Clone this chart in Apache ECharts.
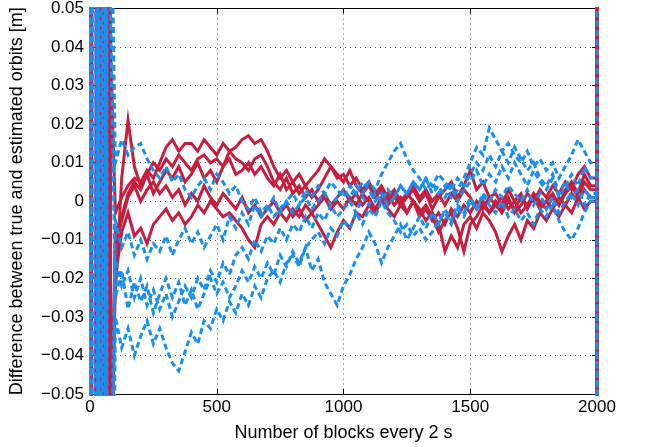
<!DOCTYPE html>
<html>
<head>
<meta charset="utf-8">
<script src="https://cdn.jsdelivr.net/npm/echarts@6/dist/echarts.min.js"></script>
<style>
    html, body { margin: 0; padding: 0; background: #fff; }
    #main { width: 659px; height: 447px; }
</style>
</head>
<body>
<div id="main"></div>
<script>
// samples every 25 blocks (100 ... 1975)
var blocks = [];
for (var b = 100; b <= 1975; b += 25) blocks.push(b);

// values in mm
// start of each run: the filter swings far off the axis before it settles
var red1Head = [[0, 900], [6, -900], [40, 900], [48, -900], [70, -55]];
var red2Head = [[4, -900], [10, 900], [44, -900], [56, 900], [72, 60]];
var red3Head = [[0, -900], [12, 900], [50, -900], [60, 900], [70, -900], [80, -100]];
var red4Head = [[2, 900], [8, -900], [54, 900], [66, -900], [72, 900], [78, -70]];
var red5Head = [[0, 900], [10, -900], [48, 900], [62, -900], [70, 900], [82, -80]];
var blue1Head = [[0, 900], [4, -900], [40, 900], [48, -900], [66, 160]];
var blue2Head = [[4, -900], [12, 900], [46, -900], [54, 900], [66, -200]];
var blue3Head = [[0, -900], [16, 900], [52, -900], [60, 900], [66, -300]];
var blue4Head = [[0, 900], [4, -900], [58, 900], [62, -900], [68, 100]];
var blue5Head = [[0, -900], [8, 900], [50, -900], [58, 900], [65, -150]];

var red1 = [-24, 6, 21, 9, 4, 7, 2, 5, 8, 6, 9, 5, 7, 10, 6, 8, 5, 9, 11, 7,
    8, 10, 7, 9, 6, 4, 7, 3, 5, 2, 4, 1, 3, 6, 9, 7, 5, 8, 4, 2,
    4, 1, 3, 0, 2, -1, 1, 3, 0, 2, -2, 1, 3, 5, 1, 4, 8, 3, 5, 1,
    2, -1, 3, 0, 2, -2, 1, -1, 0, 2, -1, 3, 5, 2, 7, 4];
var red2 = [-3, 1, 4, 6, 5, 8, 6, 10, 14, 16, 13, 15, 15, 13, 16, 14, 12, 15, 13, 14,
    16, 17, 15, 16, 13, 9, 6, 8, 5, 7, 4, 6, 8, 11, 9, 6, 7, 4, 6, 3,
    5, 2, 4, 1, 3, 0, 2, 4, 1, 3, 0, 2, -1, 2, 0, 3, 1, -2, 0, -3,
    -1, 1, -2, 0, -3, -1, 1, -2, 0, -2, 1, -1, 2, 0, 3, 1];
var red3 = [-8, -4, 2, 5, 3, 7, 10, 8, 11, 9, 12, 10, 8, 11, 12, 10, 11, 9, 13, 11,
    10, 8, 11, 12, 9, 5, 3, 6, 2, 4, 1, 3, 0, 2, -1, 1, 3, 0, 2, -1,
    1, -2, 0, 2, -1, 1, -3, 0, -4, -2, -5, -3, -6, -2, -4, -1, -3, 0, -2, 1,
    -1, -3, 0, -2, 1, -1, 2, 0, -2, 1, -1, 2, 4, 1, 5, 3];
var red4 = [-12, -5, 1, 4, 0, 3, 5, 2, 4, 1, 3, -1, 2, 0, 4, 1, -1, 2, 0, -2,
    1, -3, -1, -4, -2, 0, -3, -1, -4, -2, -5, -3, -6, -9, -12, -8, -5, -7, -3, -4,
    -1, -3, 0, -2, -4, -1, -3, 0, -2, -5, -3, -6, -13, -9, -12, -6, -4, -7, -3, -5,
    -8, -13, -9, -6, -10, -5, -7, -3, -5, -2, -4, -1, -3, 1, -2, 0];
var red5 = [-20, -8, -3, -9, -7, -11, -6, -4, -2, -5, -3, -6, -4, -1, -3, 0, -2, -4, -3, -5,
    -7, -10, -12, -6, -4, -6, -3, -5, -2, -4, -1, -3, -1, 1, -2, 0, -2, 1, -1, 2,
    0, -2, 1, -1, 1, -1, 2, 0, -3, -1, -4, -8, -5, -3, -7, -13, -6, -4, -1, -3,
    0, -2, 1, -3, -1, 2, 0, 3, 1, 4, 2, 5, 3, 7, 9, 6];

var blue1 = [10, 16, 12, 14, 15, 11, 8, 6, 9, 5, 7, 3, 1, 4, 6, 3, 7, 5, 2, 4,
    0, -2, 1, -3, -1, -4, -2, 0, -3, -1, 1, -2, 0, 2, -1, 1, 3, 1, 4, 2,
    5, 3, 7, 10, 13, 15, 11, 8, 6, 3, 5, 2, 4, 1, 3, 6, 10, 14, 12, 19,
    16, 13, 15, 12, 10, 13, 9, 11, 8, 10, 6, 9, 12, 16, 13, 10];
var blue2 = [-15, -22, -18, -25, -20, -27, -23, -28, -24, -30, -26, -22, -25, -20, -23, -18, -21, -16, -19, -14,
    -12, -15, -10, -13, -9, -11, -7, -10, -6, -8, -4, -7, -3, -5, -1, -4, -2, 0, -3, 1,
    -1, 2, 0, 3, 1, 4, 2, 5, 3, 6, 4, 7, 5, 3, 6, 4, 7, 10, 8, 12,
    9, 13, 10, 14, 11, 8, 10, 6, 4, 7, 2, 5, 1, 3, -1, 2];
var blue3 = [-30, -38, -33, -40, -35, -31, -37, -33, -38, -42, -44, -39, -34, -37, -31, -33, -28, -31, -26, -29,
    -24, -27, -22, -25, -20, -18, -21, -16, -14, -17, -12, -10, -8, -11, -7, -9, -5, -7, -3, -6,
    -2, -4, 0, -3, -5, -8, -6, -9, -7, -10, -8, -5, -3, -6, -2, -4, 0, -2, 1, -1,
    -3, 0, -4, -2, -5, -3, -6, -2, -4, -1, -5, -8, -10, -7, -3, 0];
var blue4 = [-25, -18, -28, -21, -26, -22, -29, -24, -20, -25, -21, -27, -23, -28, -24, -20, -24, -21, -25, -22,
    -18, -21, -17, -20, -16, -19, -14, -17, -13, -16, -12, -18, -15, -21, -24, -27, -22, -19, -15, -12,
    -8, -11, -16, -12, -9, -6, -10, -7, -4, -7, -3, -6, -2, -5, -1, -3, 1, -2, 2, 0,
    3, 1, 4, 2, 0, 3, -1, 2, -2, 1, -3, 0, 2, -1, 3, 1];
var blue5 = [-5, -12, -8, -14, -10, -15, -11, -13, -9, -14, -10, -7, -11, -8, -12, -9, -6, -10, -4, -7,
    -3, -6, -1, -4, -2, 1, -3, 0, 2, -1, 3, 1, 4, 2, 5, 3, 1, 4, 2, 5,
    3, 0, 2, -1, 1, 4, 2, 5, 3, 6, 2, 4, 1, 4, 0, 3, 5, 8, 4, 7,
    5, 9, 6, 10, 7, 4, 8, 5, 3, 6, 1, 4, 7, 4, 9, 6];

// the last block jumps off the axis again
var red1Tail = [[2000, 4], [2000, 900], [2000, -900]];
var red2Tail = [[2000, 1], [2000, -900], [2000, 900]];
var red3Tail = [[2000, 3], [2000, 900], [2000, -900]];
var red4Tail = [[2000, 0], [2000, -900], [2000, 900]];
var red5Tail = [[2000, 6], [2000, 900], [2000, -900]];
var blue1Tail = [[2000, 10], [2000, -900], [2000, 900]];
var blue2Tail = [[2000, 2]];
var blue3Tail = [[2000, 0]];
var blue4Tail = [[2000, 1]];
var blue5Tail = [[2000, 6]];

var RED = '#c81e3e';
var BLUE = '#1890f2';

function build(head, vals, tail) {
    var d = [];
    head.forEach(function (p) { d.push([p[0], p[1] / 1000]); });
    vals.forEach(function (v, i) { d.push([blocks[i], v / 1000]); });
    tail.forEach(function (p) { d.push([p[0], p[1] / 1000]); });
    return d;
}

function line(data, color, dashed) {
    return {
        type: 'line', data: data, symbol: 'none', clip: true, silent: true,
        lineStyle: { color: color, width: 3, type: dashed ? [6, 3.5] : 'solid', cap: 'butt', join: 'miter' }
    };
}

var font = 'Liberation Sans, Arial, Helvetica, sans-serif';
var dotted = { show: true, lineStyle: { color: '#555', width: 1, type: [1, 4] } };
var tick = { show: true, inside: true, length: 5, lineStyle: { color: '#000' } };
var edge = { show: true, onZero: false, lineStyle: { color: '#000', width: 1 } };

var myChart = echarts.init(document.getElementById('main'));
var option = {
    animation: false,
    backgroundColor: '#fff',
    grid: { left: 90, right: 62, top: 8, bottom: 48 },
    xAxis: [
        {
            type: 'value', min: 0, max: 2000, interval: 500,
            name: 'Number of blocks every 2 s', nameLocation: 'middle', nameGap: 30,
            nameTextStyle: { fontFamily: font, fontSize: 18, color: '#000' },
            axisLine: edge, axisTick: tick,
            axisLabel: { fontFamily: font, fontSize: 17, color: '#000', margin: 5,
                formatter: function (v) { return String(v); } },
            splitLine: dotted
        },
        {
            type: 'value', min: 0, max: 2000, interval: 500, position: 'top',
            axisLine: edge, axisTick: tick,
            axisLabel: { show: false }, splitLine: { show: false }
        }
    ],
    yAxis: [
        {
            type: 'value', min: -0.05, max: 0.05, interval: 0.01,
            name: 'Difference between true and estimated orbits [m]', nameLocation: 'middle', nameGap: 64,
            nameTextStyle: { fontFamily: font, fontSize: 18, color: '#000' },
            axisLine: edge, axisTick: tick,
            axisLabel: {
                fontFamily: font, fontSize: 17, color: '#000', margin: 6,
                formatter: function (v) { return (Math.round(v * 100) / 100).toString().replace('-', '\u2212'); }
            },
            splitLine: dotted
        },
        {
            type: 'value', min: -0.05, max: 0.05, interval: 0.01, position: 'right',
            axisLine: edge, axisTick: tick,
            axisLabel: { show: false }, splitLine: { show: false }
        }
    ],
    series: [
        line(build(red1Head, red1, red1Tail), RED, false),
        line(build(red2Head, red2, red2Tail), RED, false),
        line(build(red3Head, red3, red3Tail), RED, false),
        line(build(red4Head, red4, red4Tail), RED, false),
        line(build(red5Head, red5, red5Tail), RED, false),
        line(build(blue1Head, blue1, blue1Tail), BLUE, true),
        line(build(blue2Head, blue2, blue2Tail), BLUE, true),
        line(build(blue3Head, blue3, blue3Tail), BLUE, true),
        line(build(blue4Head, blue4, blue4Tail), BLUE, true),
        line(build(blue5Head, blue5, blue5Tail), BLUE, true)
    ]
};
myChart.setOption(option);
</script>
</body>
</html>
